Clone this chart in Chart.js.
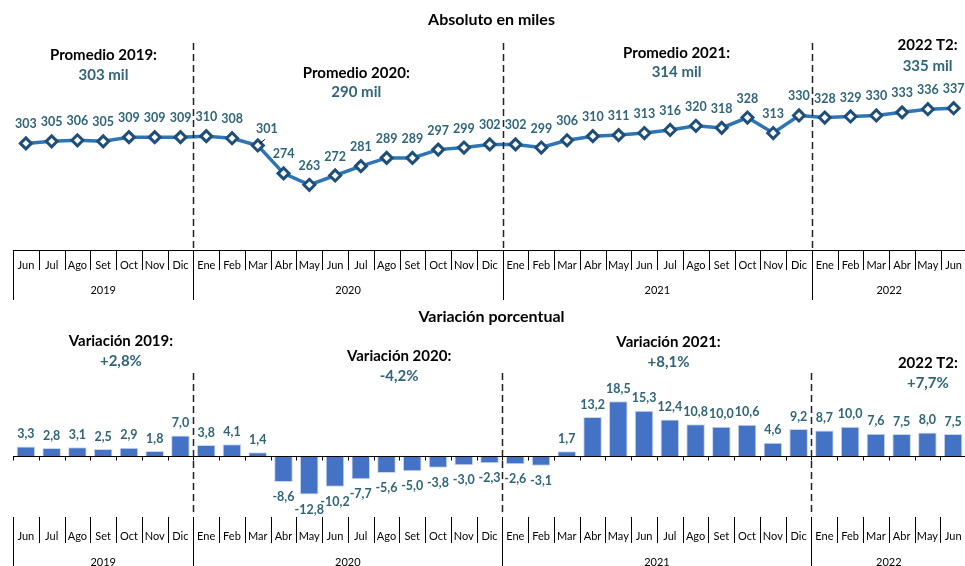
<!DOCTYPE html>
<html><head><meta charset="utf-8">
<script src="https://cdn.jsdelivr.net/npm/chart.js@4.4.1/dist/chart.umd.min.js"></script>
<style>
html,body{margin:0;padding:0;background:#fff;overflow:hidden;width:965px;height:566px;position:relative;}
canvas{position:absolute;left:0;}
#c1{top:0}
#c2{top:300px}
</style></head><body>
<canvas id="c1" width="975" height="300"></canvas>
<canvas id="c2" width="975" height="266"></canvas>
<script>
// ---- DATA ----
const months = ['Jun','Jul','Ago','Set','Oct','Nov','Dic',
  'Ene','Feb','Mar','Abr','May','Jun','Jul','Ago','Set','Oct','Nov','Dic',
  'Ene','Feb','Mar','Abr','May','Jun','Jul','Ago','Set','Oct','Nov','Dic',
  'Ene','Feb','Mar','Abr','May','Jun'];
const years = ['2019','2020','2021','2022'];
const yearCounts = [7,12,12,6];
const absoluto = [303,305,306,305,309,309,309,
  310,308,301,274,263,272,281,289,289,297,299,302,
  302,299,306,310,311,313,316,320,318,328,313,330,
  328,329,330,333,336,337];
const variacion = [3.3,2.8,3.1,2.5,2.9,1.8,7.0,
  3.8,4.1,1.4,-8.6,-12.8,-10.2,-7.7,-5.6,-5.0,-3.8,-3.0,-2.3,
  -2.6,-3.1,1.7,13.2,18.5,15.3,12.4,10.8,10.0,10.6,4.6,9.2,
  8.7,10.0,7.6,7.5,8.0,7.5];
const topTitle = 'Absoluto en miles';
const bottomTitle = 'Variación porcentual';
const promedioTitles = ['Promedio 2019:','Promedio 2020:','Promedio 2021:','2022 T2:'];
const promedioValues = ['303 mil','290 mil','314 mil','335 mil'];
const variacionTitles = ['Variación 2019:','Variación 2020:','Variación 2021:','2022 T2:'];
const variacionValues = ['+2,8%','-4,2%','+8,1%','+7,7%'];

// ---- STYLE / PLACEMENT (in axis units) ----
const FONT = 'Lato, "Open Sans", "Liberation Sans", sans-serif';
const TEAL = '#2F6479';
const topNotePos = [{x:3.01,y1:388.4,y2:369.1},{x:12.82,y1:371.0,y2:352.9},{x:25.25,y1:390.3,y2:372.3},{x:34.99,y1:398.1,y2:377.8}];
const botNotePos = [{x:3.69,y1:38.8,y2:32.0},{x:14.49,y1:33.8,y2:27.1},{x:24.95,y1:38.2,y2:31.6},{x:35.02,y1:31.3,y2:24.5}];

const yearStarts = [];
{ let s = 0; for (const c of yearCounts) { yearStarts.push(s); s += c; } }

const axisDecor = {
  id: 'axisDecor',
  afterDatasetsDraw(chart, args, o) {
    const ctx = chart.ctx, xs = chart.scales.x, ys = chart.scales.y, n = months.length;
    const ca = chart.chartArea;
    ctx.save();
    if (o.zeroLine) {
      const y0 = Math.round(ys.getPixelForValue(0)) + 0.5;
      ctx.strokeStyle = '#000'; ctx.lineWidth = 1.2;
      ctx.beginPath(); ctx.moveTo(ca.left, y0); ctx.lineTo(ca.right, y0); ctx.stroke();
      ctx.lineWidth = 1;
      for (let i = 0; i <= n; i++) {
        const px = Math.round(xs.getPixelForValue(i - 0.5)) + 0.5;
        ctx.beginPath(); ctx.moveTo(px, y0); ctx.lineTo(px, y0 + 4); ctx.stroke();
      }
    }
    ctx.strokeStyle = '#222'; ctx.lineWidth = 1.5; ctx.setLineDash([7, 4]);
    for (let k = 1; k < yearStarts.length; k++) {
      const px = Math.round(xs.getPixelForValue(yearStarts[k] - 0.5)) + 0.5;
      ctx.beginPath(); ctx.moveTo(px, ca.top); ctx.lineTo(px, ca.bottom); ctx.stroke();
    }
    ctx.setLineDash([]);
    ctx.strokeStyle = '#000'; ctx.lineWidth = 1;
    for (let i = 0; i <= n; i++) {
      const px = Math.round(xs.getPixelForValue(i - 0.5)) + 0.5;
      const isYear = yearStarts.includes(i);
      const len = isYear ? o.yearLen : o.monthLen;
      ctx.beginPath(); ctx.moveTo(px, xs.top + o.sepStart); ctx.lineTo(px, xs.top + len); ctx.stroke();
    }
    ctx.fillStyle = '#000'; ctx.font = '11px ' + FONT; ctx.textAlign = 'center'; ctx.textBaseline = 'middle';
    years.forEach((yr, k) => {
      const a = xs.getPixelForValue(yearStarts[k] - 0.5);
      const b = xs.getPixelForValue(yearStarts[k] + yearCounts[k] - 0.5);
      ctx.fillText(yr, (a + b) / 2, xs.top + o.yearLabelOffset);
    });
    o.titles.forEach((t, k) => {
      const p = o.pos[k];
      const px = xs.getPixelForValue(p.x);
      ctx.font = 'bold 15px ' + FONT; ctx.fillStyle = '#000';
      ctx.fillText(t, px, ys.getPixelForValue(p.y1));
      ctx.fillStyle = TEAL;
      ctx.fillText(o.values[k], px, ys.getPixelForValue(p.y2));
    });
    ctx.restore();
  }
};

const valueLabels = {
  id: 'valueLabels',
  afterDatasetsDraw(chart, args, o) {
    const ctx = chart.ctx;
    const meta = chart.getDatasetMeta(0);
    const data = chart.data.datasets[0].data;
    ctx.save();
    ctx.font = 'bold 12.5px ' + FONT; ctx.fillStyle = TEAL; ctx.textAlign = 'center'; ctx.textBaseline = 'middle';
    meta.data.forEach((el, i) => {
      const v = data[i];
      if (o.mode === 'line') {
        let dx = 0, dy = -19;
        if (i === 9) {
          dx = 9; dy = -16;
          ctx.strokeStyle = '#000'; ctx.lineWidth = 1;
          ctx.beginPath(); ctx.moveTo(el.x + 2, el.y - 2); ctx.lineTo(el.x + 7, el.y - 6); ctx.stroke();
        }
        ctx.fillText(String(v), el.x + dx, el.y + dy);
      } else {
        const txt = v.toFixed(1).replace('.', ',');
        ctx.fillText(txt, el.x, v >= 0 ? el.y - 12.5 : el.y + 15);
      }
    });
    ctx.restore();
  }
};

Chart.register(axisDecor, valueLabels);

function xAxis(height, padding) {
  return {
    type: 'category', offset: true,
    grid: { display: false, drawTicks: false },
    border: { display: false },
    ticks: { color: '#000', font: { family: FONT, size: 11 }, padding: padding, autoSkip: false, maxRotation: 0 },
    afterFit(s) { s.height = height; }
  };
}

new Chart(document.getElementById('c1'), {
  type: 'line',
  data: { labels: months, datasets: [{
    data: absoluto, borderColor: '#2E75B6', borderWidth: 3.5, tension: 0,
    pointStyle: 'rectRot', pointRadius: 5.5, pointBorderWidth: 3,
    pointBackgroundColor: '#fff', pointBorderColor: '#1F4E79', clip: false
  }]},
  options: {
    responsive: false, animation: false, devicePixelRatio: 1,
    layout: { padding: { left: 13, right: 5, top: 0, bottom: 0 } },
    scales: {
      x: Object.assign(xAxis(50, 8.4), { border: { display: true, color: '#000', width: 1 } }),
      y: { display: false, min: 200, max: 400 }
    },
    plugins: {
      legend: { display: false }, tooltip: { enabled: false },
      title: { display: true, text: topTitle, color: '#000', font: { family: FONT, size: 16, weight: 'bold' }, padding: { top: 10.4, bottom: 13.4 } },
      axisDecor: { zeroLine: false, sepStart: 0, monthLen: 20, yearLen: 50, yearLabelOffset: 40, titles: promedioTitles, values: promedioValues, pos: topNotePos },
      valueLabels: { mode: 'line' }
    }
  }
});

new Chart(document.getElementById('c2'), {
  type: 'bar',
  data: { labels: months, datasets: [{
    data: variacion, backgroundColor: '#4472C4', borderColor: '#c9d7ef', borderWidth: 1,
    barPercentage: 0.72, categoryPercentage: 1
  }]},
  options: {
    responsive: false, animation: false, devicePixelRatio: 1,
    layout: { padding: { left: 13, right: 5, top: 0, bottom: 0 } },
    scales: {
      x: xAxis(50, 13.4),
      y: { display: false, min: -20, max: 28 }
    },
    plugins: {
      legend: { display: false }, tooltip: { enabled: false },
      title: { display: true, text: bottomTitle, color: '#000', font: { family: FONT, size: 16, weight: 'bold' }, padding: { top: 7.4, bottom: 46.4 } },
      axisDecor: { zeroLine: true, sepStart: 1, monthLen: 27, yearLen: 50, yearLabelOffset: 46, titles: variacionTitles, values: variacionValues, pos: botNotePos },
      valueLabels: { mode: 'bar' }
    }
  }
});
</script>
</body></html>
